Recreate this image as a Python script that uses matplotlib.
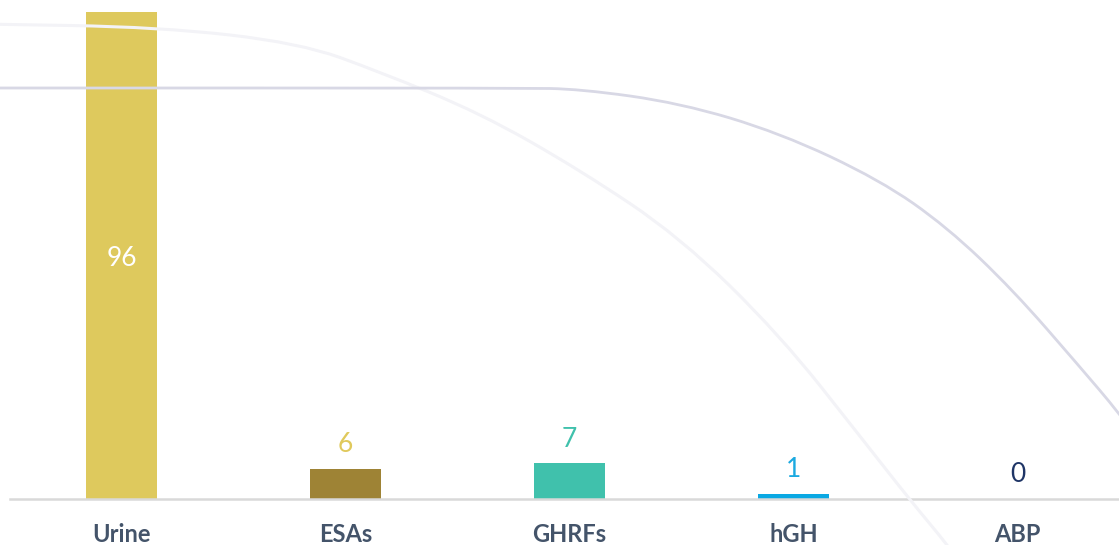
import matplotlib
matplotlib.use("Agg")
import matplotlib.pyplot as plt
from matplotlib.path import Path
from matplotlib.patches import PathPatch
from matplotlib.transforms import Affine2D

# Data
categories = ["Urine", "ESAs", "GHRFs", "hGH", "ABP"]
values = [96, 6, 7, 1, 0]
bar_colors = ["#dec95d", "#9e8335", "#40c1ac", "#0aa8e3", "#1f3566"]
label_colors = ["#ffffff", "#e0c95c", "#40c1ac", "#1ba9e0", "#1f3566"]

W, H = 1119, 545

# decorative background curves (figure pixels, y from top)
DARK_CURVE = [(-20, 88), (520, 88), (580, 89), (680, 103), (780, 133), (880, 180),
              (947, 227), (1013, 290), (1080, 367), (1119, 413), (1150, 455)]
FAINT_CURVE = [(-20, 24), (160, 27), (300, 43), (380, 72), (480, 113), (580, 170),
               (680, 237), (780, 335), (863, 440), (910, 500), (950, 548), (965, 570)]


def smooth_path(pts):
    """quadratic bezier through midpoints"""
    verts = [pts[0], ((pts[0][0] + pts[1][0]) / 2, (pts[0][1] + pts[1][1]) / 2)]
    codes = [Path.MOVETO, Path.LINETO]
    for i in range(1, len(pts) - 1):
        nxt = pts[i + 1]
        mid = ((pts[i][0] + nxt[0]) / 2, (pts[i][1] + nxt[1]) / 2)
        verts += [pts[i], mid]
        codes += [Path.CURVE3, Path.CURVE3]
    verts.append(pts[-1])
    codes.append(Path.LINETO)
    return Path(verts, codes)


fig = plt.figure(figsize=(W / 100, H / 100), dpi=100)
px = Affine2D().scale(1 / W, -1 / H).translate(0, 1) + fig.transFigure

fig.patches.append(PathPatch(smooth_path(FAINT_CURVE), transform=px, fill=False,
                             edgecolor="#f3f3f7", linewidth=2.2, zorder=0))
fig.patches.append(PathPatch(smooth_path(DARK_CURVE), transform=px, fill=False,
                             edgecolor="#d8d8e5", linewidth=2.0, zorder=0))

# axes: category step 224 px, first center at 121.5 px, baseline at 499 px, top at 12 px
step = 224
left = 121.5 - step / 2
ax = fig.add_axes([left / W, (H - 499) / H, step * len(categories) / W, (499 - 12) / H])
ax.patch.set_alpha(0)

x = list(range(len(categories)))
ax.bar(x, values, width=71 / step, color=bar_colors, zorder=2)

ax.set_xlim(-0.5, len(categories) - 0.5)
ax.set_ylim(0, 96)

for s in ["top", "right", "left"]:
    ax.spines[s].set_visible(False)
ax.spines["bottom"].set_color("#d9d9d9")
ax.spines["bottom"].set_linewidth(1.8)
ax.set_yticks([])
ax.set_xticks(x)
ax.set_xticklabels(categories, fontsize=17, fontweight="bold", color="#44546a",
                   family=["Lato", "DejaVu Sans"])
ax.tick_params(axis="x", length=0, pad=17)

num_font = dict(fontsize=19, fontweight="normal", family=["Lato", "DejaVu Sans"])
for i, v in enumerate(values):
    if i == 0:
        ax.annotate(str(v), (i, v / 2), xytext=(0, -2), textcoords="offset points",
                    ha="center", va="center", color=label_colors[i], **num_font)
    else:
        ax.annotate(str(v), (i, v), xytext=(0, 12), textcoords="offset points",
                    ha="center", va="baseline", color=label_colors[i], **num_font)

fig.savefig("out.png", dpi=100)
